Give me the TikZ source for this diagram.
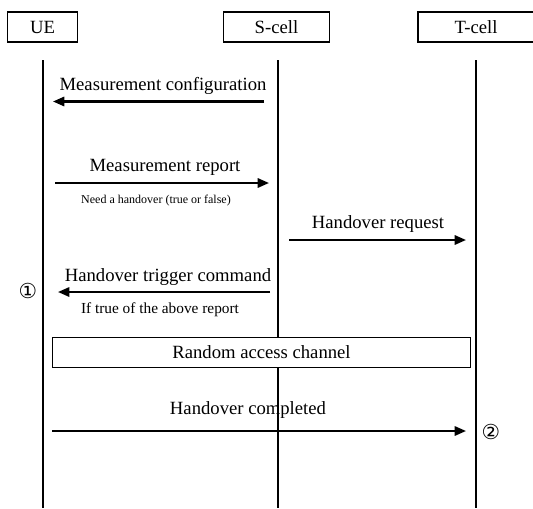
\documentclass[tikz,border=0pt]{standalone}
\usepackage{fontspec}
\setmainfont{Liberation Serif}
\newfontfamily\circfont{DejaVu Sans}
\usetikzlibrary{arrows.meta}

\begin{document}
\begin{tikzpicture}[
        x=0.75pt, y=-0.75pt,
        entity/.style = {rectangle, draw, line width=0.8pt, minimum height=22.5pt, font=\fontsize{14}{16}\selectfont},
        life/.style = {line width=1.1pt},
        msg/.style = {line width=1.6pt, -{Triangle[length=8.5pt, width=7pt]}},
        lbl/.style = {inner sep=0pt, font=\fontsize{14}{16}\selectfont},
        note/.style = {inner sep=0pt, font=\fontsize{9}{11}\selectfont},
        remark/.style = {inner sep=0pt, font=\fontsize{11.5}{13}\selectfont},
        stepmark/.style = {inner sep=0pt, font=\circfont\fontsize{15.5}{17}\selectfont}
    ]
        \useasboundingbox (0,0) rectangle (533,508);

        % Entities
        \node[entity, minimum width=52pt] (ue) at (42.5,27) {UE};
        \node[entity, minimum width=80pt] (scell) at (276.5,27) {S-cell};
        \node[entity, minimum width=87pt] (tcell) at (476,27) {T-cell};

        % Lifelines
        \coordinate (ue-top) at (43,60);
        \coordinate (ue-bot) at (43,508);
        \coordinate (scell-top) at (278,60);
        \coordinate (scell-bot) at (278,508);
        \coordinate (tcell-top) at (476,60);
        \coordinate (tcell-bot) at (476,508);
        \draw[life] (ue-top) -- (ue-bot);
        \draw[life] (scell-top) -- (scell-bot);
        \draw[life] (tcell-top) -- (tcell-bot);

        % Measurement configuration
        \coordinate (cfg-from) at (264,101.5);
        \coordinate (cfg-to) at (53,101.5);
        \draw[msg] (cfg-from) -- (cfg-to);
        \node[lbl] (cfg) at (163,86) {Measurement configuration};

        % Measurement report
        \coordinate (rep-from) at (55,183);
        \coordinate (rep-to) at (269,183);
        \draw[msg] (rep-from) -- (rep-to);
        \node[lbl] (rep) at (165,167) {Measurement report};
        \node[note] (rep-note) at (156,201) {Need a handover (true or false)};

        % Handover request
        \coordinate (req-from) at (289,240);
        \coordinate (req-to) at (466,240);
        \draw[msg] (req-from) -- (req-to);
        \node[lbl] (req) at (378,224) {Handover request};

        % Handover trigger command
        \coordinate (cmd-from) at (270,292);
        \coordinate (cmd-to) at (58,292);
        \draw[msg] (cmd-from) -- (cmd-to);
        \node[lbl] (cmd) at (168,277) {Handover trigger command};
        \node[remark] (cmd-note) at (160,310) {If true of the above report};
        \node[stepmark] (step1) at (28,291) {①};

        % Random access channel
        \node[rectangle, draw, line width=0.8pt, minimum width=314pt, minimum height=22.5pt,
              font=\fontsize{14}{16}\selectfont, fill=white] (rach) at (261.5,352.5) {Random access channel};

        % Handover completed
        \coordinate (done-from) at (52,431);
        \coordinate (done-to) at (466,431);
        \draw[msg] (done-from) -- (done-to);
        \node[lbl] (done) at (248,410) {Handover completed};
        \node[stepmark] (step2) at (491,432) {②};
    \end{tikzpicture}
\end{document}
